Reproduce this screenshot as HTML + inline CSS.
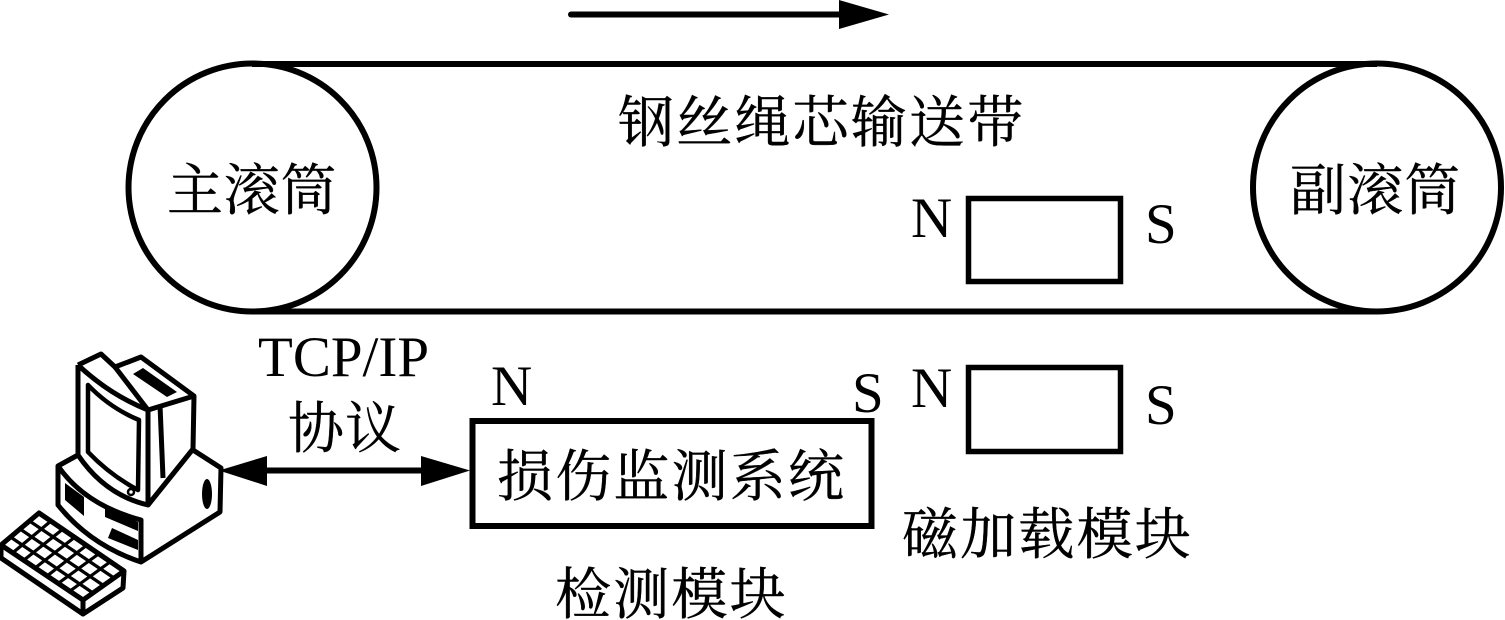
<!DOCTYPE html>
<html><head><meta charset="utf-8"><style>
html,body{margin:0;padding:0;background:#fff;width:1505px;height:620px;overflow:hidden}
svg{display:block}
.c{font-family:"Liberation Serif","Noto Serif CJK SC",serif;font-size:56px;fill:#000;stroke:#000;stroke-width:.4px}
.l{font-family:"Liberation Serif",serif;font-size:57px;fill:#000}
</style></head><body>
<svg width="1505" height="620" viewBox="0 0 1505 620" xmlns="http://www.w3.org/2000/svg">
<rect width="1505" height="620" fill="#fff"/>
<g fill="none" stroke="#000" stroke-width="6">
<line x1="252" y1="64" x2="1377" y2="64"/>
<line x1="252" y1="311.500" x2="1377" y2="311.500"/>
<circle cx="252.500" cy="187.500" r="124"/>
<circle cx="1377" cy="187.500" r="124"/>
<rect x="968.500" y="198.500" width="152" height="83" stroke-width="5.500"/>
<rect x="968.500" y="367.500" width="152" height="84" stroke-width="5.500"/>
<rect x="472.500" y="421" width="399" height="105"/>
</g>
<line x1="571" y1="14.500" x2="845" y2="14.500" stroke="#000" stroke-width="6" stroke-linecap="round"/>
<polygon points="839,0 889,14.500 839,29" fill="#000"/>
<line x1="260" y1="470.500" x2="430" y2="470.500" stroke="#000" stroke-width="6"/>
<polygon points="219,470.500 267,456 267,486" fill="#000"/>
<polygon points="470,470.500 421,456 421,486" fill="#000"/>

<text class="c" x="618" y="142" letter-spacing="2.200">钢丝绳芯输送带</text>
<text class="c" x="167" y="210" letter-spacing="0.800">主滚筒</text>
<text class="c" x="1290" y="210" letter-spacing="1.200">副滚筒</text>
<text class="c" x="288" y="448" letter-spacing="1">协议</text>
<text class="c" x="497" y="496" letter-spacing="2.200">损伤监测系统</text>
<text class="c" x="555" y="614" letter-spacing="2.200">检测模块</text>
<text class="c" x="902" y="554" letter-spacing="2.200">磁加载模块</text>

<text class="l" x="258" y="376">TCP/IP</text>
<text class="l" x="491" y="405">N</text>
<text class="l" x="852" y="412">S</text>
<text class="l" x="911" y="237">N</text>
<text class="l" x="1145" y="243">S</text>
<text class="l" x="911" y="407">N</text>
<text class="l" x="1145" y="424">S</text>

<!-- computer -->
<g fill="none" stroke="#000" stroke-width="5" stroke-linejoin="round">
<path d="M78,455 L58,466 L58,505 Q90,545 141,562 L220,512 L221,468 L193,450"/>
<path d="M58,466 Q85,505 141,520 L141,562"/>
<path d="M78,365 L101,354 L115,367 L141,357 L194,396 L193,449 L148,505"/>
<path d="M78,365 L78,455 Q105,495 148,505 L148,410 L194,396"/>
<path d="M78,365 Q110,395 148,410"/>
<path d="M115,367 L148,410"/>
<path d="M88,385 Q110,408 139,420 L138,490 Q110,475 88,452 Z" stroke-width="4.500"/>
<path d="M160,405 L163,478" stroke-width="5"/>
<circle cx="131" cy="492" r="3" stroke-width="2.500"/>
<path d="M39,513 L124,571 L83,600 L1,545 Z"/>
<path d="M1,545 L1,558 L83,614 L123,588 L124,571"/>
<path d="M83,600 L83,614"/>
</g>
<g fill="none" stroke="#000" stroke-width="3.200">
<path d="M29.500,521 L114,578 M20,529 L103.500,585.500 M10.500,537 L93,593"/>
<path d="M51,521 L12.500,553 M63,529 L24,560 M75,537 L35,568 M87,545 L47,576 M98.500,554 L58,583.500 M110,562 L70,591"/>
</g>
<g fill="#000">
<polygon points="133,374 143,368 177,392 167,397"/>
<polygon points="65,483 84,497 84,516 65,500"/>
<polygon points="105,508 138,522 138,531 105,517"/>
<polygon points="112,528 138,540 138,550 108,538"/>
<ellipse cx="207" cy="494" rx="5" ry="15"/>
</g>
</svg>
</body></html>
